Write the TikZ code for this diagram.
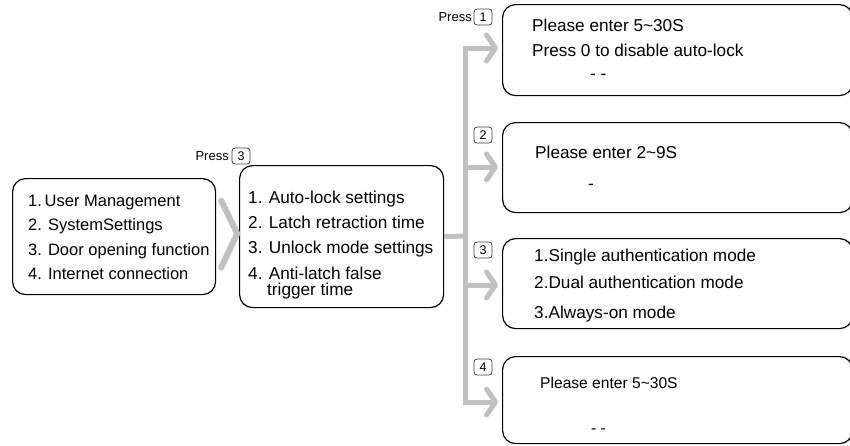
\documentclass[tikz,border=0pt]{standalone}
\usepackage{fontspec}
\setmainfont{Liberation Sans}
\usetikzlibrary{arrows.meta,calc}
\definecolor{conngray}{RGB}{192,192,192}
\begin{document}
\begin{tikzpicture}[x=1pt,y=-1pt,
  box/.style={draw=black,line width=1.2pt,rounded corners=13pt,anchor=north west,inner sep=0pt},
  txt/.style={anchor=base west,inner sep=0pt,font=\fontsize{16.5}{20}\selectfont},
  txtr/.style={anchor=base west,inner sep=0pt,font=\fontsize{17.2}{20}\selectfont},
  txtd/.style={anchor=base west,inner sep=0pt,font=\fontsize{15.6}{18}\selectfont},
  presslbl/.style={anchor=base east,inner sep=0pt,font=\fontsize{13}{15}\selectfont},
  numbox/.style={draw=black!75,line width=0.8pt,rounded corners=3pt,minimum width=18pt,minimum height=16pt,inner sep=0pt,font=\fontsize{12.5}{14}\selectfont},
  conn/.style={draw=conngray,line width=5pt},
  arr/.style={conn,-{Straight Barb[length=9pt,width=26pt,round]}}
]
\useasboundingbox (0,0) rectangle (850,445);
\clip (0,0) rectangle (850,445);
% main boxes
\node[box,minimum width=203pt,minimum height=116pt] (L) at (12,178) {};
\node[box,minimum width=204pt,minimum height=142pt] (M) at (239,165) {};
\node[box,minimum width=350pt,minimum height=91pt] (A) at (502,4) {};
\node[box,minimum width=350pt,minimum height=90pt] (B) at (502,122) {};
\node[box,minimum width=350pt,minimum height=90pt] (C) at (502,238) {};
\node[box,minimum width=350pt,minimum height=87pt] (D) at (502,356) {};
% left box text
\node[txt] (l1) at (28,206) {1.\,User Management};
\node[txt] (l2) at (28,230) {2. SystemSettings};
\node[txt] (l3) at (28,255) {3. Door opening function};
\node[txt] (l4) at (28,279) {4. Internet connection};
% middle box text
\node[txtr] (m1) at (248,203) {1. Auto-lock settings};
\node[txtr] (m2) at (248,228) {2. Latch retraction time};
\node[txtr] (m3) at (248,253) {3. Unlock mode settings};
\node[txtr] (m4) at (248,279) {4. Anti-latch false};
\node[txtr] (m5) at (267,295) {trigger time};
% right boxes text
\node[txtr] (a1) at (532,31) {Please enter 5\char"7E 30S};
\node[txtr] (a2) at (532,56) {Press 0 to disable auto-lock};
\node[txtr] (a3) at (590,79) {- -};
\node[txtr] (b1) at (535,158) {Please enter 2\char"7E 9S};
\node[txtr] (b2) at (588,189) {-};
\node[txtr] (c1) at (534,261) {1.Single authentication mode};
\node[txtr] (c2) at (534,288) {2.Dual authentication mode};
\node[txtr] (c3) at (534,318) {3.Always-on mode};
\node[txtd] (d1) at (540,388) {Please enter 5\char"7E 30S};
\node[txtd] (d2) at (591,433) {- -};
% press labels
\node[numbox] (k3) at (241,156) {3};
\node[presslbl] (p3) at (229,160) {Press};
\node[numbox] (k1) at (483,17) {1};
\node[presslbl] (p1) at (472,21) {Press};
\node[numbox] (k2) at (483,135) {2};
\node[numbox] (k3b) at (483,250) {3};
\node[numbox] (k4) at (483,367) {4};
% chevron between left and middle boxes
\draw[conngray,line width=6pt,line cap=round,line join=round]
  ($(L.east)+(5,-36)$) -- ($(L.east)+(21,-3)$) -- ($(L.east)+(5,31)$);
% connectors
\coordinate (t1) at (465,48);
\coordinate (t2) at (465,167);
\coordinate (t3) at (465,285);
\coordinate (t4) at (465,402);
\coordinate (tm) at (465,236);
\draw[conn] (M.east) -- (tm);
\draw[conn,line cap=rect] (t1) -- (t4);
\draw[arr] (t1) -- ($(A.west |- t1)+(-4,0)$);
\draw[arr] (t2) -- ($(B.west |- t2)+(-4,0)$);
\draw[arr] (t3) -- ($(C.west |- t3)+(-4,0)$);
\draw[arr] (t4) -- ($(D.west |- t4)+(-4,0)$);
\end{tikzpicture}
\end{document}
